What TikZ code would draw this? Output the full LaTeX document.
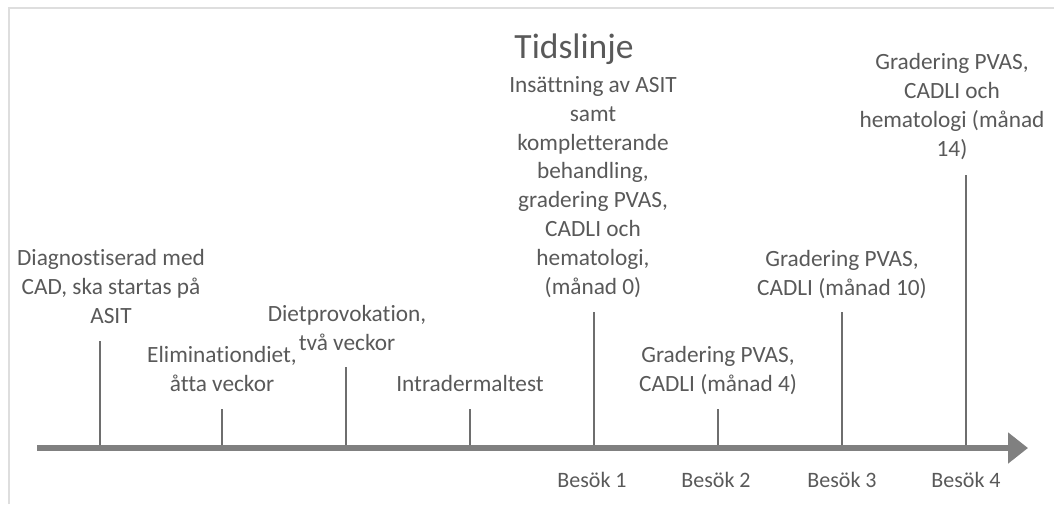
\documentclass[tikz,border=0pt]{standalone}
\usepackage{fontspec}
\setmainfont{Carlito}[Ligatures={NoCommon}]
\usetikzlibrary{arrows.meta}
\definecolor{txtc}{HTML}{595959}
\definecolor{axisc}{HTML}{808080}
\definecolor{tickc}{HTML}{6E6E6E}
\definecolor{framec}{HTML}{DEDEDE}
\begin{document}
\begin{tikzpicture}[x=1pt,y=-1pt,
  lbl/.style={text=txtc, font=\fontsize{23.3}{28.8}\selectfont, align=center, anchor=base, inner sep=0pt},
  visit/.style={text=txtc, font=\fontsize{22}{26}\selectfont, anchor=base, inner sep=0pt},
  titlestyle/.style={text=txtc, font=\fontsize{35.5}{40}\selectfont, anchor=base, inner sep=0pt},
  tickline/.style={draw=tickc, line width=1.4pt},
  axisline/.style={draw=axisc, line width=6.5pt, -{Triangle[length=20pt,width=30pt]}},
  framestyle/.style={draw=framec, line width=2pt}]
\useasboundingbox (0,0) rectangle (1054,504);
\draw[framestyle] (9,504) -- (9,8) -- (1054,8);

% title
\node[titlestyle] (title) at (574,58) {Tidslinje};

% axis
\coordinate (axL) at (37,448);
\coordinate (axR) at (1028,448);
\draw[axisline] (axL) -- (axR);

% tick bases and tops
\foreach \n/\x/\t in {1/100/341, 2/222/409, 3/346/367, 4/470/409, 5/594/312, 6/718/409, 7/842/312, 8/966/175}{
  \coordinate (b\n) at (\x,445);
  \coordinate (t\n) at (\x,\t);
  \draw[tickline] (b\n) -- (t\n);
}

% labels (anchor = baseline of last line)
\node[lbl] (la) at (111,323) {Diagnostiserad med\\CAD, ska startas på\\ASIT};
\node[lbl] (lb) at (222,391) {Eliminationdiet,\\åtta veckor};
\node[lbl] (lc) at (347,350) {Dietprovokation,\\två veckor};
\node[lbl] (ld) at (470,391) {Intradermaltest};
\node[lbl] (le) at (593,294) {Insättning av ASIT\\samt\\kompletterande\\behandling,\\gradering PVAS,\\CADLI och\\hematologi,\\(månad 0)};
\node[lbl] (lf) at (718,391) {Gradering PVAS,\\CADLI (månad 4)};
\node[lbl] (lg) at (842,295) {Gradering PVAS,\\CADLI (månad 10)};
\node[lbl] (lh) at (952,156) {Gradering PVAS,\\CADLI och\\hematologi (månad\\14)};

% visits
\node[visit] (v1) at (592,487) {Besök 1};
\node[visit] (v2) at (716,487) {Besök 2};
\node[visit] (v3) at (842,487) {Besök 3};
\node[visit] (v4) at (966,487) {Besök 4};
\end{tikzpicture}
\end{document}
